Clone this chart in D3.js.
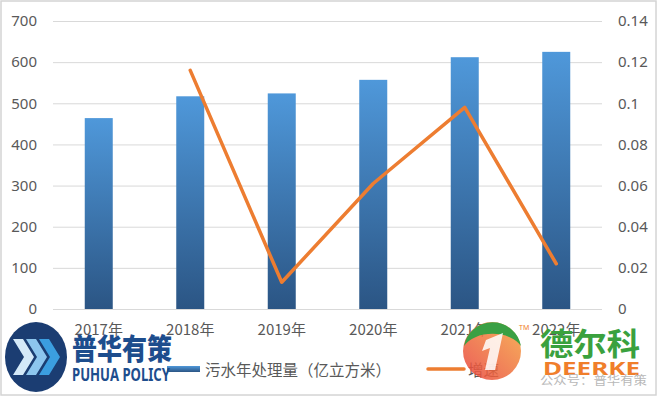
<!DOCTYPE html>
<html>
<head>
<meta charset="utf-8">
<script src="https://cdn.jsdelivr.net/npm/d3@7"></script>
<style>
  body { margin: 0; background: #fff; }
  svg { display: block; }
</style>
</head>
<body>
<div class="chart"></div>
<script>
const years = ["2017年", "2018年", "2019年", "2020年", "2021年", "2022年"];
const volume = [464, 517, 524, 557, 612, 625];
const growthYears = ["2018年", "2019年", "2020年", "2021年", "2022年"];
const growth = [0.116, 0.013, 0.061, 0.098, 0.022];
const leftTicks = [0, 100, 200, 300, 400, 500, 600, 700];
const rightTicks = [0, 0.02, 0.04, 0.06, 0.08, 0.1, 0.12, 0.14];

const width = 660;
const height = 397;
const plot = { left: 53, right: 602, top: 21, bottom: 309 };
const numFont = "'Noto Sans', 'Noto Sans CJK SC', sans-serif";
const cjkFont = "'Noto Sans CJK SC', 'Noto Sans', sans-serif";

const svg = d3.select(".chart")
  .append("svg")
  .attr("width", width)
  .attr("height", height);

svg.append("rect")
  .attr("x", 1).attr("y", 1)
  .attr("width", 655).attr("height", 394)
  .attr("fill", "#fff")
  .attr("stroke", "#d4d4d4")
  .attr("stroke-width", 1.5);

const defs = svg.append("defs");
const barGrad = defs.append("linearGradient")
  .attr("id", "barGrad").attr("x1", 0).attr("y1", 0).attr("x2", 0).attr("y2", 1);
barGrad.append("stop").attr("offset", "0%").attr("stop-color", "#4f98da");
barGrad.append("stop").attr("offset", "100%").attr("stop-color", "#2b5584");

const logoGrad = defs.append("linearGradient")
  .attr("id", "logoGrad").attr("x1", 0).attr("y1", 1).attr("x2", 1).attr("y2", 0);
logoGrad.append("stop").attr("offset", "0%").attr("stop-color", "#e8403c");
logoGrad.append("stop").attr("offset", "100%").attr("stop-color", "#f6a43c");

const x = d3.scaleBand()
  .domain(years)
  .range([plot.left, plot.right])
  .paddingInner(0.694)
  .paddingOuter(0.347);

const yLeft = d3.scaleLinear().domain([0, 700]).range([plot.bottom, plot.top]);
const yRight = d3.scaleLinear().domain([0, 0.14]).range([plot.bottom, plot.top]);

// gridlines + left labels
svg.append("g")
  .attr("transform", `translate(${plot.left},0)`)
  .call(d3.axisLeft(yLeft).tickValues(leftTicks)
    .tickSize(-(plot.right - plot.left)).tickPadding(16))
  .call((g) => g.select(".domain").remove())
  .call((g) => g.selectAll("line").attr("stroke", "#d9d9d9").attr("stroke-width", 1))
  .call((g) => g.selectAll("text")
    .attr("fill", "#595959")
    .style("font-family", numFont)
    .style("font-size", "15px"));

// right labels
svg.append("g")
  .attr("transform", `translate(${plot.right},0)`)
  .call(d3.axisRight(yRight).tickValues(rightTicks).tickSize(0).tickPadding(16)
    .tickFormat((d) => String(+d.toFixed(2))))
  .call((g) => g.select(".domain").remove())
  .call((g) => g.selectAll("text")
    .attr("fill", "#595959")
    .style("font-family", numFont)
    .style("font-size", "15px"));

// bars
svg.selectAll(".bar")
  .data(years.map((y, i) => ({ year: y, value: volume[i] })))
  .join("rect")
  .attr("class", "bar")
  .attr("x", (d) => x(d.year))
  .attr("y", (d) => yLeft(d.value))
  .attr("width", x.bandwidth())
  .attr("height", (d) => yLeft(0) - yLeft(d.value))
  .attr("fill", "url(#barGrad)");

// x labels
svg.append("g")
  .attr("transform", `translate(0,${plot.bottom})`)
  .call(d3.axisBottom(x).tickSize(0).tickPadding(15))
  .call((g) => g.select(".domain").remove())
  .call((g) => g.selectAll("text")
    .attr("fill", "#595959")
    .style("font-family", cjkFont)
    .style("font-size", "15px"));

// growth line
const line = d3.line()
  .x((d) => x(d.year) + x.bandwidth() / 2)
  .y((d) => yRight(d.value));

svg.append("path")
  .datum(growthYears.map((y, i) => ({ year: y, value: growth[i] })))
  .attr("d", line)
  .attr("fill", "none")
  .attr("stroke", "#ed7d31")
  .attr("stroke-width", 3.5)
  .attr("stroke-linejoin", "round")
  .attr("stroke-linecap", "round");

// legend
const legend = svg.append("g");
legend.append("rect")
  .attr("x", 167).attr("y", 366)
  .attr("width", 33).attr("height", 6)
  .attr("fill", "url(#barGrad)");
legend.append("text")
  .attr("x", 205).attr("y", 376)
  .attr("fill", "#595959")
  .style("font-family", cjkFont)
  .style("font-size", "15.5px")
  .text("污水年处理量（亿立方米）");
legend.append("line")
  .attr("x1", 428).attr("x2", 464)
  .attr("y1", 369).attr("y2", 369)
  .attr("stroke", "#ed7d31")
  .attr("stroke-width", 3.5)
  .attr("stroke-linecap", "round");
legend.append("text")
  .attr("x", 468).attr("y", 376)
  .attr("fill", "#595959")
  .style("font-family", cjkFont)
  .style("font-size", "15.5px")
  .text("增速");

// watermark: PUHUA logo
const puhua = svg.append("g");
puhua.append("ellipse")
  .attr("cx", 36).attr("cy", 357)
  .attr("rx", 31).attr("ry", 35)
  .attr("fill", "#1b3d72");
const chevron = "M0,-18 L10,-18 L21,0 L10,18 L0,18 L11,0 Z";
[["#d4e9f8", -23], ["#8dc6ee", -10], ["#3b9ee0", 3]].forEach(([c, dx]) => {
  puhua.append("path")
    .attr("d", chevron)
    .attr("transform", `translate(${36 + dx},357)`)
    .attr("fill", c);
});
puhua.append("text")
  .attr("x", 72).attr("y", 360)
  .attr("textLength", 100).attr("lengthAdjust", "spacingAndGlyphs")
  .attr("fill", "#1d4d8d")
  .style("font-family", cjkFont)
  .style("font-weight", 900)
  .style("font-size", "29px")
  .text("普华有策");
puhua.append("text")
  .attr("x", 72).attr("y", 381)
  .attr("textLength", 98).attr("lengthAdjust", "spacingAndGlyphs")
  .attr("fill", "#1d4d8d")
  .style("font-family", numFont)
  .style("font-weight", 700)
  .style("font-size", "17px")
  .text("PUHUA POLICY");

// watermark: DEERKE logo
const deerke = svg.append("g");
deerke.append("circle")
  .attr("cx", 492).attr("cy", 351).attr("r", 29)
  .attr("fill", "url(#logoGrad)")
  .attr("opacity", 0.85);
deerke.append("path")
  .attr("d", "M464,346 A29,29 0 0 1 521,346 A31,20 0 0 0 464,346 Z")
  .attr("fill", "#3aa044");
deerke.append("path")
  .attr("d", "M486,340 L503,333 L495,370 L485,370 L490,348 L482,351 Z")
  .attr("fill", "#fff")
  .attr("opacity", 0.85);
deerke.append("text")
  .attr("x", 519).attr("y", 330)
  .attr("fill", "#f07e2b")
  .style("font-family", numFont)
  .style("font-size", "7px")
  .text("TM");
deerke.append("text")
  .attr("x", 540).attr("y", 355)
  .attr("textLength", 100).attr("lengthAdjust", "spacingAndGlyphs")
  .attr("fill", "#3aa13e")
  .style("font-family", cjkFont)
  .style("font-weight", 700)
  .style("font-size", "31px")
  .text("德尔科");
deerke.append("text")
  .attr("x", 543).attr("y", 375)
  .attr("textLength", 97).attr("lengthAdjust", "spacingAndGlyphs")
  .attr("fill", "#f07e2b")
  .style("font-family", numFont)
  .style("font-weight", 700)
  .style("font-size", "17px")
  .text("DEERKE");
deerke.append("text")
  .attr("x", 540).attr("y", 385)
  .attr("textLength", 107).attr("lengthAdjust", "spacingAndGlyphs")
  .attr("fill", "#b8b8b8")
  .style("font-family", cjkFont)
  .style("font-size", "12px")
  .text("公众号：普华有策");
</script>
</body>
</html>
